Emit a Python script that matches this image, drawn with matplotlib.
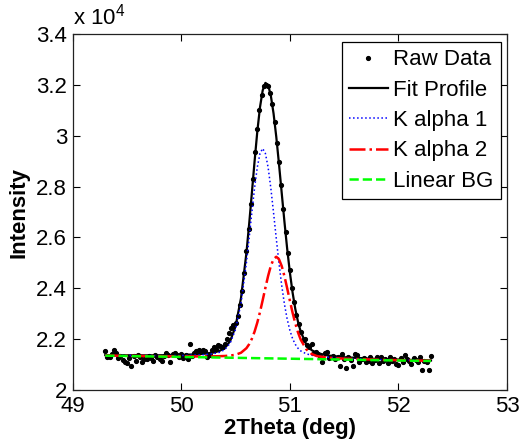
import matplotlib
matplotlib.use("Agg")
import matplotlib.pyplot as plt
from matplotlib.ticker import FuncFormatter, MultipleLocator

plt.rcParams["font.family"] = ["Liberation Sans", "DejaVu Sans"]
plt.rcParams["mathtext.default"] = "regular"

# raw scan, 2theta step 0.02 deg
raw_x = [
    49.30, 49.32, 49.34, 49.36, 49.38, 49.40, 49.42, 49.44, 49.46, 49.48,
    49.50, 49.52, 49.54, 49.56, 49.58, 49.60, 49.62, 49.64, 49.66, 49.68,
    49.70, 49.72, 49.74, 49.76, 49.78, 49.80, 49.82, 49.84, 49.86, 49.88,
    49.90, 49.92, 49.94, 49.96, 49.98, 50.00, 50.02, 50.04, 50.06, 50.08,
    50.10, 50.12, 50.14, 50.16, 50.18, 50.20, 50.22, 50.24, 50.26, 50.28,
    50.30, 50.32, 50.34, 50.36, 50.38, 50.40, 50.42, 50.44, 50.46, 50.48,
    50.50, 50.52, 50.54, 50.56, 50.58, 50.60, 50.62, 50.64, 50.66, 50.68,
    50.70, 50.72, 50.74, 50.76, 50.78, 50.80, 50.82, 50.84, 50.86, 50.88,
    50.90, 50.92, 50.94, 50.96, 50.98, 51.00, 51.02, 51.04, 51.06, 51.08,
    51.10, 51.12, 51.14, 51.16, 51.18, 51.20, 51.22, 51.24, 51.26, 51.28,
    51.30, 51.32, 51.34, 51.36, 51.38, 51.40, 51.42, 51.44, 51.46, 51.48,
    51.50, 51.52, 51.54, 51.56, 51.58, 51.60, 51.62, 51.64, 51.66, 51.68,
    51.70, 51.72, 51.74, 51.76, 51.78, 51.80, 51.82, 51.84, 51.86, 51.88,
    51.90, 51.92, 51.94, 51.96, 51.98, 52.00, 52.02, 52.04, 52.06, 52.08,
    52.10, 52.12, 52.14, 52.16, 52.18, 52.20, 52.22, 52.24, 52.26, 52.28,
    52.30,
]
raw_y = [
    21520, 21300, 21280, 21420, 21560, 21440, 21250, 21330, 21180, 21120,
    21060, 21250, 20950, 21330, 21160, 21380, 21300, 21110, 21230, 21200,
    21350, 21260, 21160, 21380, 21300, 21200, 21140, 21340, 21440, 21360,
    21120, 21400, 21470, 21380, 21300, 21410, 21250, 21360, 21200, 21790,
    21320, 21460, 21540, 21580, 21490, 21560, 21530, 21310, 21390, 21560,
    21700, 21620, 21760, 21740, 21700, 21800, 22000, 22240, 22420, 22560,
    22650, 22900, 23350, 23900, 24600, 25450, 26350, 27300, 28300, 29350,
    30250, 31000, 31600, 31950, 32000, 31950, 31700, 31250, 30550, 29700,
    28950, 28050, 27100, 26200, 25400, 24700, 24000, 23450, 22950, 22580,
    22300, 21950, 22000, 21780, 21700, 21800, 21470, 21480, 21400, 21330,
    21110, 21440, 21480, 21260, 21300, 21350, 21230, 21280, 20950, 21400,
    21200, 20880, 21300, 21180, 20950, 21400, 21370, 21120, 21200, 21260,
    21100, 21150, 21290, 21050, 21180, 21300, 21060, 21310, 21150, 21220,
    21080, 21310, 21140, 21200, 21010, 20990, 21250, 21100, 21380, 21200,
    21150, 21020, 21240, 21170, 21100, 21300, 20800, 21150, 21100, 20800,
    21330,
]

# fitted curves
fit_x = [
    49.30, 49.70, 50.00, 50.20, 50.30, 50.35, 50.40, 50.45, 50.50, 50.55,
    50.60, 50.625, 50.65, 50.675, 50.70, 50.725, 50.75, 50.775, 50.80, 50.825,
    50.85, 50.875, 50.90, 50.925, 50.95, 50.975, 51.00, 51.025, 51.05, 51.075,
    51.10, 51.15, 51.20, 51.25, 51.35, 51.50, 51.80, 52.30,
]
fit_profile = [
    21371, 21362, 21376, 21421, 21476, 21533, 21652, 21923, 22504, 23612,
    25390, 26516, 27739, 28987, 30153, 31120, 31786, 32077, 31994, 31574,
    30873, 29957, 28889, 27753, 26626, 25571, 24636, 23839, 23193, 22683,
    22295, 21809, 21570, 21454, 21357, 21289, 21222, 21161,
]
k_alpha1 = [
    21365, 21351, 21356, 21388, 21431, 21480, 21587, 21839, 22384, 23410,
    25005, 25974, 26982, 27946, 28757, 29304, 29499, 29301, 28750, 27935,
    26968, 25957, 24984, 24114, 23382, 22795, 22349, 22023, 21797, 21642,
    21538, 21424, 21368, 21334, 21292, 21251, 21204, 21153,
]
k_alpha2 = [
    21356, 21333, 21321, 21320, 21325, 21330, 21338, 21354, 21386, 21465,
    21644, 21799, 22013, 22295, 22648, 23066, 23536, 24023, 24489, 24882,
    25147, 25240, 25143, 24875, 24479, 24009, 23518, 23045, 22624, 22267,
    21981, 21606, 21419, 21334, 21272, 21234, 21193, 21148,
]
bg_x = [49.30, 52.30]
linear_bg = [21350, 21140]

fig = plt.figure(figsize=(5.28, 4.47), dpi=100)
ax = fig.add_axes([0.1377, 0.1275, 0.8225, 0.7964])

ax.plot(raw_x, raw_y, "k.", markersize=5.5, label="Raw Data")
ax.plot(fit_x, fit_profile, "k-", lw=1.6, label="Fit Profile")
ax.plot(fit_x, k_alpha1, ":", color="blue", lw=1.1, label="K alpha 1")
ax.plot(fit_x, k_alpha2, "-.", color="red", lw=1.8, label="K alpha 2")
ax.plot(bg_x, linear_bg, "--", color="#00ff00", lw=1.8, label="Linear BG")

ax.set_xlim(49, 53)
ax.set_ylim(20000, 34000)
ax.xaxis.set_major_locator(MultipleLocator(1))
ax.yaxis.set_major_locator(MultipleLocator(2000))
ax.yaxis.set_major_formatter(FuncFormatter(lambda v, p: f"{v / 1e4:g}"))
ax.tick_params(direction="in", top=True, right=True, length=5, width=0.8,
               labelsize=16, pad=4)
for s in ax.spines.values():
    s.set_linewidth(0.9)
    s.set_color("#222222")

ax.set_xlabel("2Theta (deg)", fontsize=16, fontweight="bold", labelpad=1)
ax.set_ylabel("Intensity", fontsize=16, fontweight="bold", labelpad=5)
ax.text(0.0, 1.012, "x 10$^{4}$", transform=ax.transAxes, fontsize=16,
        ha="left", va="bottom")

leg = ax.legend(loc="upper right", bbox_to_anchor=(0.9855, 0.9767),
                borderaxespad=0, fancybox=False, edgecolor="black",
                framealpha=1, fontsize=16, handlelength=1.75,
                handletextpad=0.25, labelspacing=0.42, borderpad=0.32)
leg.get_frame().set_linewidth(0.9)

fig.savefig("out.png", dpi=100)
